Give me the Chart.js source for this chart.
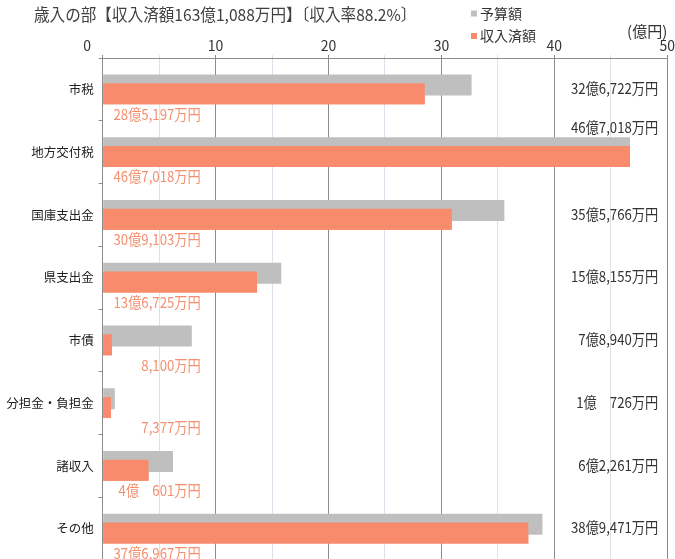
<!DOCTYPE html>
<html lang="ja">
<head>
<meta charset="utf-8">
<script src="https://cdn.jsdelivr.net/npm/chart.js@4.4.1/dist/chart.umd.min.js"></script>
<style>
  html, body { margin: 0; padding: 0; background: #fff; overflow: hidden; }
  #wrap { position: relative; width: 677px; height: 560px; }
</style>
</head>
<body>
<div id="wrap"><canvas id="myChart"></canvas></div>
<script>
// 単位: 億円
var categories = ['市税', '地方交付税', '国庫支出金', '県支出金', '市債', '分担金・負担金', '諸収入', 'その他'];
var budget = [32.6722, 46.7018, 35.5766, 15.8155, 7.8940, 1.0726, 6.2261, 38.9471];
var received = [28.5197, 46.7018, 30.9103, 13.6725, 0.8100, 0.7377, 4.0601, 37.6967];
var budgetLabels = ['32億6,722万円', '46億7,018万円', '35億5,766万円', '15億8,155万円', '7億8,940万円', '1億　726万円', '6億2,261万円', '38億9,471万円'];
var receivedLabels = ['28億5,197万円', '46億7,018万円', '30億9,103万円', '13億6,725万円', '8,100万円', '7,377万円', '4億　601万円', '37億6,967万円'];
var seriesNames = ['予算額', '収入済額'];
var xTicks = [0, 10, 20, 30, 40, 50];
var titleText = '歳入の部【収入済額163億1,088万円】〔収入率88.2%〕';

var JP = '"Noto Sans CJK JP", sans-serif';
var GRAY = '#bfbfbf';
var SALMON = '#f88b6b';

// 元の図は幅の狭いフォントなので横に少し詰めて描く
function narrowText(ctx, text, x, y, squeeze) {
  ctx.fillText(text, x, y, ctx.measureText(text).width * squeeze);
}

var labelPlugin = {
  id: 'valueLabels',
  afterDatasetsDraw: function (chart) {
    var ctx = chart.ctx;
    var area = chart.chartArea;
    var ys = chart.scales.y;
    // 収入済額のバーを予算額の上に重ねて描く
    chart.getDatasetMeta(1).controller.draw();

    var gray = chart.getDatasetMeta(0).data;
    ctx.save();
    ctx.font = '15px ' + JP;
    ctx.textAlign = 'right';
    ctx.textBaseline = 'middle';
    categories.forEach(function (c, i) {
      var yc = ys.getPixelForValue(i);
      ctx.fillStyle = '#f4906f';
      narrowText(ctx, receivedLabels[i], area.left + 98, yc + 24.5, 0.88);

      var rx = area.right - 9;
      var w = ctx.measureText(budgetLabels[i]).width * 0.88;
      var ry = yc - 1;
      if (gray[i].x > rx - w - 4) {
        ry = gray[i].y - gray[i].height / 2 - 10;
      }
      ctx.fillStyle = '#333';
      narrowText(ctx, budgetLabels[i], rx, ry, 0.88);
    });

    // タイトル
    ctx.textAlign = 'left';
    ctx.fillStyle = '#404040';
    ctx.font = '16.5px ' + JP;
    narrowText(ctx, titleText, 34, 15, 0.945);

    // 凡例
    ctx.font = '14px ' + JP;
    [GRAY, SALMON].forEach(function (col, k) {
      var y = 13.5 + k * 22.5;
      ctx.fillStyle = col;
      ctx.fillRect(471, y - 3, 6, 6);
      ctx.fillStyle = '#333';
      ctx.fillText(seriesNames[k], 480, y);
    });
    ctx.restore();
  }
};

var ctx = document.getElementById('myChart');
var chart = new Chart(ctx, {
  type: 'bar',
  data: {
    labels: categories,
    datasets: [
      { label: seriesNames[0], data: budget, backgroundColor: GRAY },
      { label: seriesNames[1], data: received, backgroundColor: SALMON }
    ]
  },
  options: {
    indexAxis: 'y',
    responsive: true,
    maintainAspectRatio: false,
    animation: false,
    categoryPercentage: 0.28,
    barPercentage: 2.4,
    layout: { padding: { left: 0, right: 0, top: 23, bottom: 0 } },
    plugins: {
      legend: { display: false },
      tooltip: { enabled: false },
      title: { display: false }
    },
    scales: {
      x: {
        position: 'top',
        min: 0,
        max: 50,
        ticks: {
          stepSize: 5,
          autoSkip: false,
          maxRotation: 0,
          padding: 2,
          color: '#333',
          font: { family: JP, size: 14, lineHeight: 1 },
          callback: function (v) {
            if (xTicks.indexOf(v) < 0) return '';
            return v === 0 ? '0          ' : String(v);
          }
        },
        grid: {
          tickLength: 3,
          color: function (c) {
            return c.tick && c.tick.value % 10 === 0 ? '#8c8c8c' : '#dde2ea';
          }
        },
        border: { color: '#8c8c8c' },
        title: {
          display: true,
          text: '(億円)',
          align: 'end',
          color: '#333',
          font: { family: JP, size: 15, lineHeight: 1 },
          padding: { top: 1, bottom: 0 }
        },
        afterFit: function (s) { s.height = 35; }
      },
      y: {
        ticks: { color: '#222', padding: 5, font: { family: JP, size: 12.5 } },
        grid: { drawOnChartArea: false, tickLength: 4, color: '#8c8c8c' },
        border: { color: '#8c8c8c' },
        afterFit: function (s) {
          s.width = 102.7;
          s.paddingTop = 0;
          s.paddingBottom = 0;
        }
      }
    }
  },
  plugins: [labelPlugin]
});
</script>
</body>
</html>
